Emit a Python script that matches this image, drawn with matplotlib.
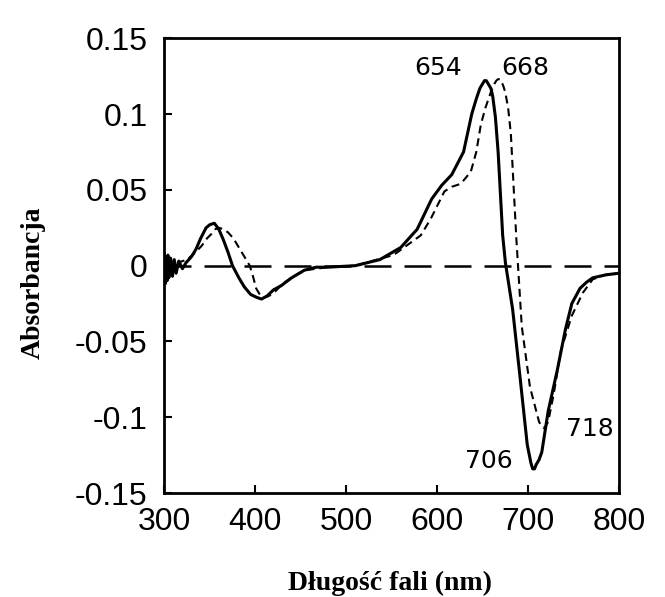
import matplotlib
matplotlib.use("Agg")
import matplotlib.pyplot as plt

# wavelength (nm) and absorbance
solid_nm = [300, 301, 302, 303, 304, 305, 307, 309, 311, 313, 316, 320, 324,
            330, 335, 340, 346, 350, 355, 360, 365, 370, 375, 382, 388, 395,
            402, 407, 413, 420, 429, 440, 454, 467, 480, 510, 537, 560, 578,
            594, 605, 616, 629, 638, 643, 647, 650, 652, 654, 656, 659, 661,
            664, 667, 672, 675, 683, 691, 699, 703, 705, 707, 709, 712, 715,
            722, 732, 741, 748, 757, 764, 771, 786, 800]
solid_abs = [0.008, -0.012, 0.006, -0.010, 0.007, -0.008, 0.005, -0.007,
             0.004, -0.005, 0.003, -0.002, 0.002, 0.006, 0.011, 0.018, 0.025,
             0.027, 0.028, 0.024, 0.017, 0.009, 0.0, -0.008, -0.014, -0.019,
             -0.021, -0.022, -0.020, -0.016, -0.013, -0.008, -0.003, -0.001,
             -0.001, 0.0, 0.004, 0.012, 0.024, 0.044, 0.053, 0.060, 0.075,
             0.100, 0.110, 0.117, 0.120, 0.122, 0.122, 0.120, 0.117, 0.112,
             0.098, 0.075, 0.020, 0.002, -0.029, -0.073, -0.118, -0.130,
             -0.134, -0.134, -0.131, -0.128, -0.123, -0.096, -0.069, -0.042,
             -0.025, -0.015, -0.011, -0.008, -0.006, -0.005]

dashed_nm = [300, 315, 325, 333, 341, 347, 352, 356, 360, 365, 370, 376, 382,
             388, 394, 398, 401, 405, 409, 415, 422, 430, 442, 455, 480, 510,
             552, 582, 593, 608, 616, 626, 637, 643, 648, 653, 657, 660, 663,
             665, 667, 669, 671, 673, 675, 678, 681, 687, 693, 702, 712, 715,
             717, 719, 722, 728, 736, 748, 760, 771, 785, 800]
dashed_abs = [0.0, 0.002, 0.004, 0.008, 0.013, 0.018, 0.021, 0.024, 0.025,
              0.024, 0.022, 0.018, 0.012, 0.006, 0.0, -0.008, -0.015, -0.019,
              -0.021, -0.020, -0.017, -0.012, -0.007, -0.003, -0.001, 0.0,
              0.007, 0.020, 0.031, 0.049, 0.052, 0.054, 0.062, 0.075, 0.093,
              0.104, 0.111, 0.116, 0.120, 0.122, 0.123, 0.123, 0.121, 0.118,
              0.114, 0.104, 0.087, 0.018, -0.040, -0.080, -0.103, -0.106,
              -0.107, -0.106, -0.103, -0.085, -0.056, -0.033, -0.018, -0.009,
              -0.006, -0.005]

baseline_nm = [300, 800]
baseline_abs = [0.0, 0.0]

peak_labels = ["654", "668", "718", "706"]

xticks = [300, 400, 500, 600, 700, 800]
yticks = [-0.15, -0.1, -0.05, 0, 0.05, 0.1, 0.15]
ytick_labels = ["-0.15", "-0.1", "-0.05", "0", "0.05", "0.1", "0.15"]

fig = plt.figure(figsize=(6.65, 5.97), dpi=100)
ax = fig.add_axes([0.247, 0.174, 0.684, 0.762])

ax.plot(baseline_nm, baseline_abs, color="black", lw=1.8,
        linestyle=(0, (10.8, 5.2)))
ax.plot(dashed_nm, dashed_abs, color="black", lw=1.5,
        linestyle=(0, (3.8, 2.4)))
ax.plot(solid_nm, solid_abs, color="black", lw=2.2, solid_joinstyle="round")

ax.set_xlim(300, 800)
ax.set_ylim(-0.15, 0.15)
ax.set_xticks(xticks)
ax.set_xticklabels([str(t) for t in xticks])
ax.set_yticks(yticks)
ax.set_yticklabels(ytick_labels)
ax.tick_params(direction="in", length=6, width=1.5, labelsize=23)
ax.tick_params(axis="y", pad=12)
ax.tick_params(axis="x", pad=10)
for side in ax.spines.values():
    side.set_linewidth(2)

for lab in ax.get_xticklabels() + ax.get_yticklabels():
    lab.set_family("Liberation Sans")

# peak labels
ax.text(601, 0.1305, peak_labels[0], fontsize=18, ha="center", va="center")
ax.text(697, 0.1305, peak_labels[1], fontsize=18, ha="center", va="center")
ax.text(768, -0.1075, peak_labels[2], fontsize=18, ha="center", va="center")
ax.text(657, -0.129, peak_labels[3], fontsize=18, ha="center", va="center")

fig.text(33 / 665, 1 - 283 / 597, "Absorbancja", rotation=90,
         family="Liberation Serif", weight="bold", fontsize=20,
         ha="center", va="center")
fig.text(390 / 665, 1 - 583 / 597, "Długość fali (nm)",
         family="Liberation Serif", weight="bold", fontsize=20,
         ha="center", va="center")

fig.savefig("out.png", dpi=100)
